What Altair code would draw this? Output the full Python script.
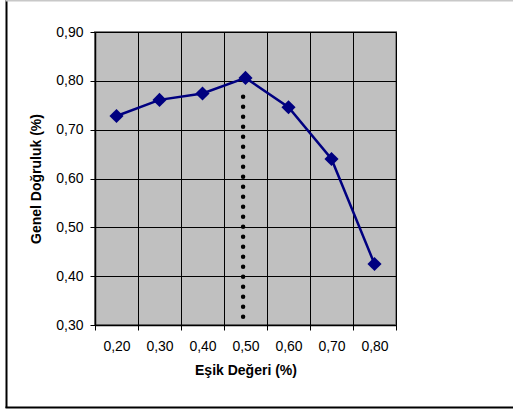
import altair as alt
import pandas as pd

thresholds = ["0,20", "0,30", "0,40", "0,50", "0,60", "0,70", "0,80"]
accuracy = [0.728, 0.761, 0.774, 0.806, 0.746, 0.640, 0.425]
y_ticks = [0.30, 0.40, 0.50, 0.60, 0.70, 0.80, 0.90]
marker_threshold = ["0,50"]
marker_start = [0.317]
marker_end = [0.788]

df = pd.DataFrame({"t": thresholds, "acc": accuracy})
mk = pd.DataFrame({"t": marker_threshold, "y0": marker_start, "y1": marker_end})

FONT = "Liberation Sans"

xscale = alt.Scale(type="band", domain=thresholds, paddingInner=0, paddingOuter=0)
yscale = alt.Scale(domain=[0.3, 0.9], nice=False, zero=False)

x_axis = alt.Axis(
    title="Eşik Değeri (%)",
    labelAngle=0,
    labelAlign="center",
    tickBand="extent",
    grid=True,
)
y_axis = alt.Axis(
    title="Genel Doğruluk (%)",
    values=y_ticks,
    labelExpr="replace(format(datum.value, '.2f'), '.', ',')",
    grid=True,
)

line = alt.Chart(df).mark_line(color="#000080", strokeWidth=2.5).encode(
    x=alt.X("t:O", scale=xscale, axis=x_axis),
    y=alt.Y("acc:Q", scale=yscale, axis=y_axis),
)
pts = alt.Chart(df).mark_point(
    shape="diamond", filled=True, size=200, color="#000080", opacity=1
).encode(
    x=alt.X("t:O", scale=xscale, axis=x_axis),
    y=alt.Y("acc:Q", scale=yscale, axis=y_axis),
)

dots = alt.Chart(mk).mark_rule(
    color="black", strokeWidth=4.5, strokeDash=[0.001, 10], strokeCap="round",
    xOffset=-2.4,
).encode(
    x=alt.X("t:O", scale=xscale, axis=x_axis, bandPosition=0.5),
    y=alt.Y("y0:Q", scale=yscale, axis=y_axis),
    y2="y1:Q",
)

frame_left = alt.Chart(mk).mark_rule(color="black", strokeWidth=2).encode(
    x=alt.value(-88.5), y=alt.value(-32), y2=alt.value(376)
)
frame_bottom = alt.Chart(mk).mark_rule(color="black", strokeWidth=2).encode(
    x=alt.value(-89.5), x2=alt.value(420), y=alt.value(375.5)
)
frame_top = alt.Chart(mk).mark_rule(color="#c8c8c8", strokeWidth=1.5).encode(
    x=alt.value(-89.5), x2=alt.value(420), y=alt.value(-31.3)
)

chart = (
    alt.layer(line, dots, pts, frame_left, frame_bottom, frame_top)
    .properties(
        width=301,
        height=293,
        autosize=alt.AutoSizeParams(type="none"),
        padding={"left": 95, "top": 32, "right": 117, "bottom": 85},
        background="white",
    )
    .configure(font=FONT)
    .configure_view(fill="#C0C0C0", stroke="#808080", strokeWidth=2)
    .configure_axis(
        gridColor="black",
        gridWidth=1,
        gridOpacity=1,
        domainColor="black",
        domainWidth=1.5,
        tickColor="black",
        tickSize=5,
        labelFontSize=14,
        labelColor="black",
        labelFont=FONT,
        titleFont=FONT,
        titleFontSize=14,
        titleFontWeight="bold",
        titleColor="black",
    )
    .configure_axisX(labelPadding=9, titlePadding=10)
    .configure_axisY(labelPadding=7, titlePadding=12)
)

chart.save("out.html", embed_options={"renderer": "svg", "actions": False})
